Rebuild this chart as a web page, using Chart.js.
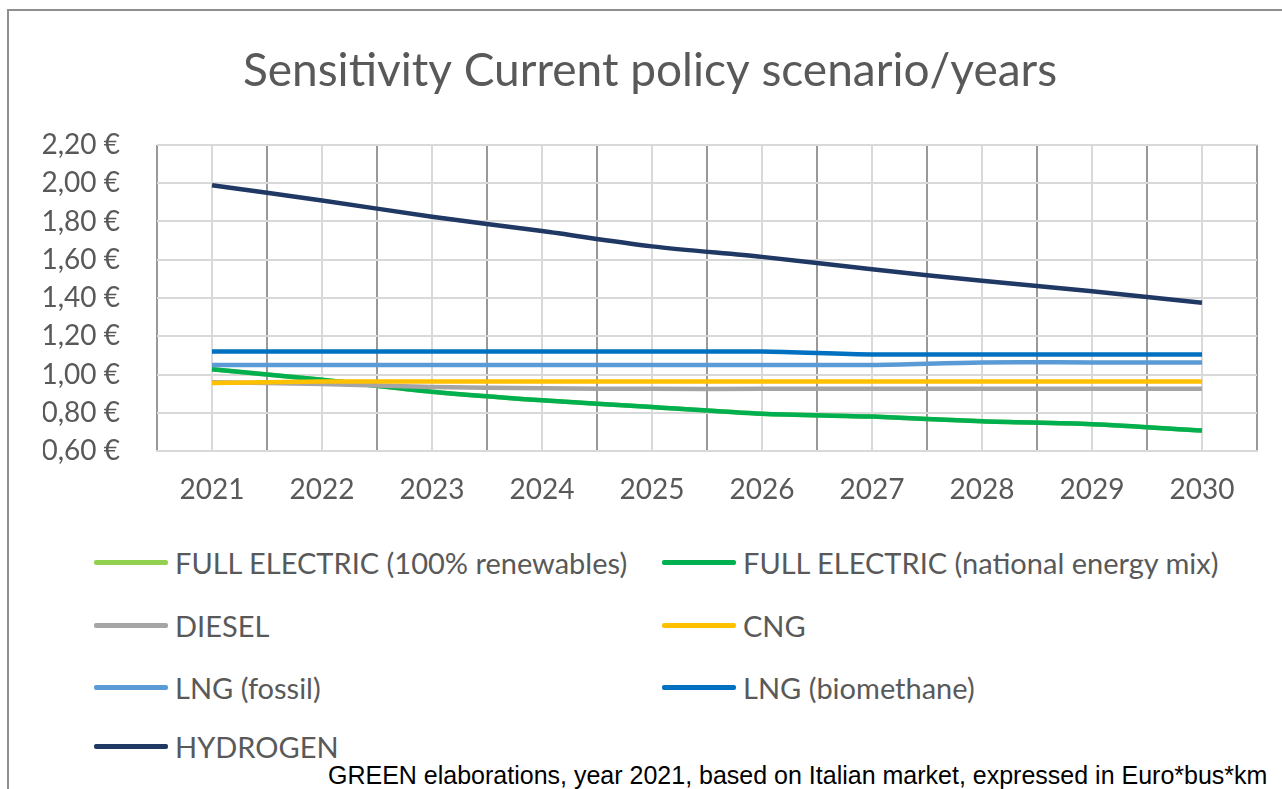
<!DOCTYPE html>
<html>
<head>
<meta charset="utf-8">
<script src="https://cdn.jsdelivr.net/npm/chart.js@4.4.1/dist/chart.umd.min.js"></script>
<style>
  html, body { margin: 0; padding: 0; background: #fff; overflow: hidden; }
  body { width: 1282px; height: 789px; position: relative; }
  #frame { position: absolute; left: 7px; top: 9px; width: 1400px; height: 900px; border: 2px solid #8f8f8f; }
  #myChart { position: absolute; left: 0; top: 0; }
  .leg { position: absolute; font-family: Lato, sans-serif; font-size: 29px; color: #595959; white-space: nowrap; display: flex; align-items: center; height: 32px; }
  .leg span.swatch { display: inline-block; width: 74px; height: 5px; margin-right: 7px; border-radius: 2px; }
  #note { position: absolute; left: 328px; top: 761px; font-family: "Liberation Sans", Arial, sans-serif; font-size: 25px; color: #000; white-space: nowrap; }
</style>
</head>
<body>
<div id="frame"></div>
<canvas id="myChart" width="1282" height="515"></canvas>
<div id="legend"></div>
<div id="note">GREEN elaborations, year 2021, based on Italian market, expressed in Euro*bus*km</div>
<script>
const years = ['2021', '2022', '2023', '2024', '2025', '2026', '2027', '2028', '2029', '2030'];

const fullElectricRenewables = [1.027, 0.973, 0.91, 0.865, 0.83, 0.795, 0.78, 0.755, 0.74, 0.707];
const fullElectricMix = [1.027, 0.973, 0.91, 0.865, 0.83, 0.795, 0.78, 0.755, 0.74, 0.707];
const diesel = [0.96, 0.95, 0.935, 0.928, 0.925, 0.925, 0.925, 0.925, 0.925, 0.925];
const cng = [0.955, 0.963, 0.963, 0.963, 0.963, 0.963, 0.963, 0.963, 0.963, 0.963];
const lngFossil = [1.05, 1.05, 1.05, 1.05, 1.05, 1.05, 1.05, 1.063, 1.063, 1.063];
const lngBiomethane = [1.12, 1.12, 1.12, 1.12, 1.12, 1.12, 1.105, 1.105, 1.105, 1.105];
const hydrogen = [1.99, 1.91, 1.825, 1.75, 1.67, 1.615, 1.55, 1.49, 1.435, 1.375];

const seriesNames = [
    'FULL ELECTRIC (100% renewables)',
    'FULL ELECTRIC (national energy mix)',
    'DIESEL',
    'CNG',
    'LNG (fossil)',
    'LNG (biomethane)',
    'HYDROGEN'
];
const seriesColors = ['#92D050', '#00B050', '#A5A5A5', '#FFC000', '#5B9BD5', '#0070C0', '#203864'];
const seriesData = [fullElectricRenewables, fullElectricMix, diesel, cng, lngFossil, lngBiomethane, hydrogen];

const yTicks = [0.6, 0.8, 1.0, 1.2, 1.4, 1.6, 1.8, 2.0, 2.2];

const textColor = '#595959';

const data = {
    labels: years,
    datasets: seriesNames.map(function (name, i) {
        return {
            label: name,
            data: seriesData[i],
            borderColor: seriesColors[i],
            backgroundColor: seriesColors[i],
            borderWidth: 4.5,
            pointRadius: 0,
            tension: 0.3,
            fill: false,
            // excel draws later series on top
            order: seriesNames.length - i
        };
    })
};

const config = {
    type: 'line',
    data: data,
    options: {
        responsive: false,
        animation: false,
        layout: {
            padding: { left: 43, right: 25, top: 0, bottom: 0 }
        },
        plugins: {
            legend: { display: false },
            tooltip: { enabled: false },
            title: {
                display: true,
                text: 'Sensitivity Current policy scenario/years',
                color: textColor,
                font: { family: 'Lato', size: 46, weight: 'normal' },
                padding: { top: 44, bottom: 45.8 }
            }
        },
        scales: {
            x: {
                type: 'category',
                position: 'bottom',
                offset: true,
                grid: { offset: false, color: '#d9d9d9', lineWidth: 2, drawTicks: false },
                border: { color: '#d9d9d9', width: 2 },
                ticks: {
                    color: textColor,
                    font: { family: 'Lato', size: 28 },
                    padding: 22,
                    maxRotation: 0
                },
                afterFit: function (s) { s.height = 64; }
            },
            x2: {
                type: 'category',
                position: 'bottom',
                offset: true,
                grid: { offset: true, color: '#999999', lineWidth: 2, drawTicks: false },
                border: { display: false },
                ticks: { display: false },
                afterFit: function (s) { s.height = 0; }
            },
            y: {
                min: 0.6,
                max: 2.2,
                grid: { color: '#d9d9d9', lineWidth: 2, drawTicks: false },
                border: { display: false },
                afterBuildTicks: function (s) {
                    s.ticks = yTicks.map(function (v) { return { value: v }; });
                },
                ticks: {
                    color: textColor,
                    font: { family: 'Lato', size: 28 },
                    padding: 37,
                    callback: function (v) {
                        return v.toFixed(2).replace('.', ',') + ' \u20AC';
                    }
                },
                afterFit: function (s) { s.width = 114; }
            }
        }
    }
};

var myChart = new Chart(document.getElementById('myChart'), config);

// legend in two columns, as in the excel chart
const legendRows = [562, 625, 687, 746];
const legendCols = [94, 662];
const legendBox = document.getElementById('legend');
seriesNames.forEach(function (name, i) {
    const item = document.createElement('div');
    item.className = 'leg';
    item.style.left = legendCols[i % 2] + 'px';
    item.style.top = (legendRows[Math.floor(i / 2)] - 16) + 'px';
    const sw = document.createElement('span');
    sw.className = 'swatch';
    sw.style.background = seriesColors[i];
    item.appendChild(sw);
    item.appendChild(document.createTextNode(name));
    legendBox.appendChild(item);
});
</script>
</body>
</html>
